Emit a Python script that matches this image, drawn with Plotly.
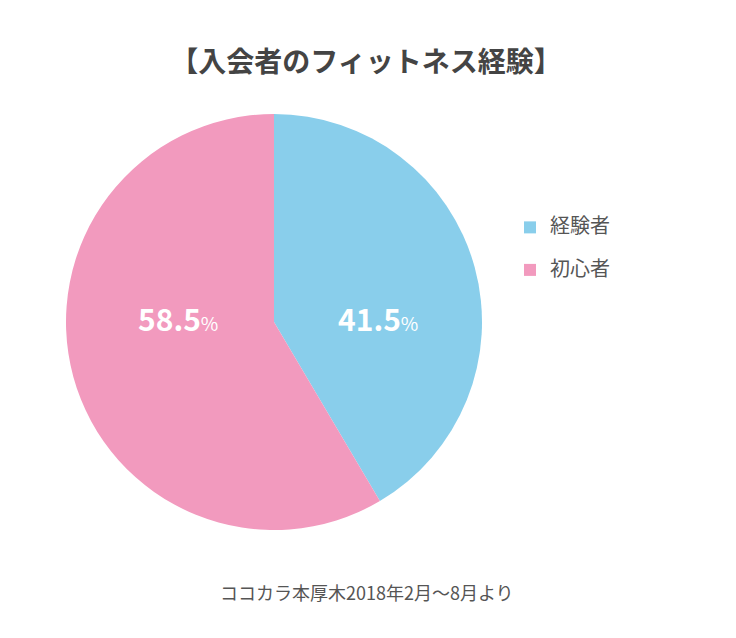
import plotly.graph_objects as go

labels = ["経験者", "初心者"]
values = [41.5, 58.5]
colors = ["#89CEEB", "#F29ABE"]
title = "【入会者のフィットネス経験】"
source = "ココカラ本厚木2018年2月〜8月より"

W, H = 736, 638
cx, cy, r = 274, 322, 208

legend_names = [f"<span style='font-size:20px'>{l}</span><br> " for l in labels]

fig = go.Figure(go.Pie(
    labels=legend_names,
    values=values,
    sort=False,
    direction="clockwise",
    rotation=0,
    marker=dict(colors=colors, line=dict(width=0)),
    textinfo="none",
    domain=dict(x=[(cx - r) / W, (cx + r) / W], y=[1 - (cy + r) / H, 1 - (cy - r) / H]),
    hoverinfo="percent",
))

# percentage labels placed inside slices, horizontally aligned
label_x = [378, 178]
annotations = []
for v, lx in zip(values, label_x):
    annotations.append(dict(
        text=f"<b>{v}</b><span style='font-size:19px'>%</span>",
        x=lx / W, y=1 - 318 / H, xref="paper", yref="paper",
        xanchor="center", yanchor="middle", showarrow=False,
        font=dict(family="Noto Sans CJK JP", size=30, color="white"),
    ))
annotations.append(dict(text=source, x=367 / W, y=1 - 592 / H, xref="paper", yref="paper",
                        xanchor="center", yanchor="middle", showarrow=False,
                        font=dict(size=18, color="#555555")))

fig.update_layout(
    width=W, height=H,
    margin=dict(l=0, r=0, t=0, b=0),
    paper_bgcolor="white",
    plot_bgcolor="white",
    font=dict(family="Noto Sans CJK JP", color="#555555"),
    title=dict(text=f"<b>{title}</b>", x=366 / W, xanchor="center", y=1 - 62 / H, yanchor="middle",
               font=dict(size=28, color="#444444", family="Noto Sans CJK JP")),
    legend=dict(x=510 / W, y=1 - 211 / H, xanchor="left", yanchor="top", valign="top",
                font=dict(size=15.2, color="#555555"), traceorder="normal",
                itemwidth=30, bgcolor="rgba(0,0,0,0)"),
    annotations=annotations,
)

fig.write_html("out.html")
